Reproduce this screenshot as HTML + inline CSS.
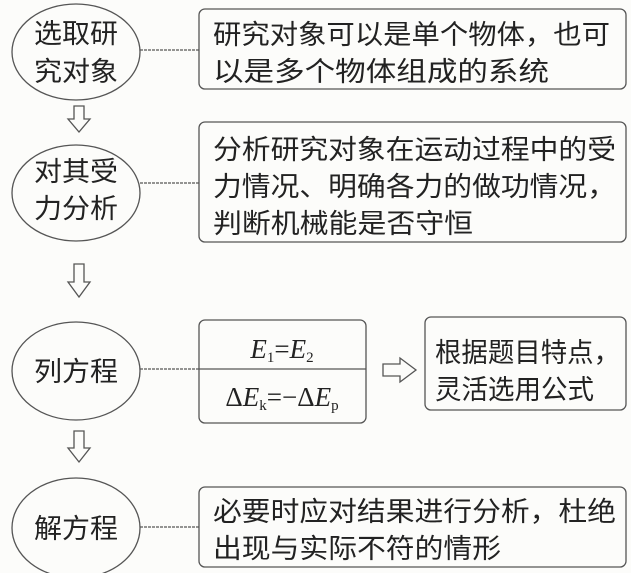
<!DOCTYPE html>
<html><head><meta charset="utf-8"><style>
html,body{margin:0;padding:0;background:#fcfcfa;}
svg{display:block;}
.c{font-family:"Noto Sans CJK SC",sans-serif;font-size:27px;fill:#222;}
.m{font-family:"Liberation Serif",serif;fill:#222;}
</style></head><body>
<svg width="631" height="573" viewBox="0 0 631 573" xmlns="http://www.w3.org/2000/svg">
<g fill="none" stroke="#555" stroke-width="1.3">
<ellipse cx="76" cy="52" rx="64" ry="48"/>
<ellipse cx="76" cy="193" rx="64" ry="48"/>
<ellipse cx="76" cy="371" rx="64" ry="49"/>
<ellipse cx="76" cy="528" rx="64" ry="50"/>
<rect x="199" y="9" width="427" height="80" rx="6"/>
<rect x="199" y="122" width="427" height="120" rx="6"/>
<rect x="199" y="320" width="167" height="103" rx="6"/>
<line x1="199" y1="369" x2="366" y2="369"/>
<rect x="425" y="317" width="201" height="93" rx="6"/>
<rect x="199" y="487" width="427" height="80" rx="6"/>
<line x1="140" y1="50" x2="199" y2="50" stroke-dasharray="3,1"/>
<line x1="140" y1="183" x2="199" y2="183" stroke-dasharray="3,1"/>
<line x1="140" y1="369" x2="199" y2="369" stroke-dasharray="3,1"/>
<line x1="140" y1="527" x2="199" y2="527" stroke-dasharray="3,1"/>
<path d="M74 106 L84 106 L84 119 L90 119 L79 132 L68 119 L74 119 Z"/>
<path d="M74 264 L84 264 L84 282 L90 282 L79 297 L68 282 L74 282 Z"/>
<path d="M74 431 L84 431 L84 448 L90 448 L79 462 L68 448 L74 448 Z"/>
<path d="M383 364 L400 364 L400 358 L416 370 L400 382 L400 376 L383 376 Z"/>
</g>
<g class="c" lengthAdjust="spacingAndGlyphs">
<text x="34" y="43" textLength="84" lengthAdjust="spacingAndGlyphs">选取研</text>
<text x="34" y="81" textLength="84" lengthAdjust="spacingAndGlyphs">究对象</text>
<text x="34" y="181" textLength="84" lengthAdjust="spacingAndGlyphs">对其受</text>
<text x="34" y="218" textLength="84" lengthAdjust="spacingAndGlyphs">力分析</text>
<text x="34" y="381" textLength="84" lengthAdjust="spacingAndGlyphs">列方程</text>
<text x="34" y="538" textLength="84" lengthAdjust="spacingAndGlyphs">解方程</text>
<text x="213" y="44" textLength="397" lengthAdjust="spacingAndGlyphs">研究对象可以是单个物体，也可</text>
<text x="213" y="81" textLength="336" lengthAdjust="spacingAndGlyphs">以是多个物体组成的系统</text>
<text x="213" y="159" textLength="403" lengthAdjust="spacingAndGlyphs">分析研究对象在运动过程中的受</text>
<text x="213" y="196" textLength="403" lengthAdjust="spacingAndGlyphs">力情况、明确各力的做功情况，</text>
<text x="213" y="233" textLength="260" lengthAdjust="spacingAndGlyphs">判断机械能是否守恒</text>
<text x="435" y="362" textLength="185" lengthAdjust="spacingAndGlyphs">根据题目特点，</text>
<text x="435" y="399" textLength="159" lengthAdjust="spacingAndGlyphs">灵活选用公式</text>
<text x="213" y="521" textLength="403" lengthAdjust="spacingAndGlyphs">必要时应对结果进行分析，杜绝</text>
<text x="213" y="558" textLength="288" lengthAdjust="spacingAndGlyphs">出现与实际不符的情形</text>
</g>
<text class="m" x="282" y="358" text-anchor="middle" font-size="27"><tspan font-style="italic">E</tspan><tspan font-size="15" dy="4">1</tspan><tspan dy="-4">=</tspan><tspan font-style="italic">E</tspan><tspan font-size="15" dy="4">2</tspan></text>
<text class="m" x="282" y="406" text-anchor="middle" font-size="27">Δ<tspan font-style="italic">E</tspan><tspan font-size="15" dy="4">k</tspan><tspan dy="-4">=−Δ</tspan><tspan font-style="italic">E</tspan><tspan font-size="15" dy="4">p</tspan></text>
</svg>
</body></html>
